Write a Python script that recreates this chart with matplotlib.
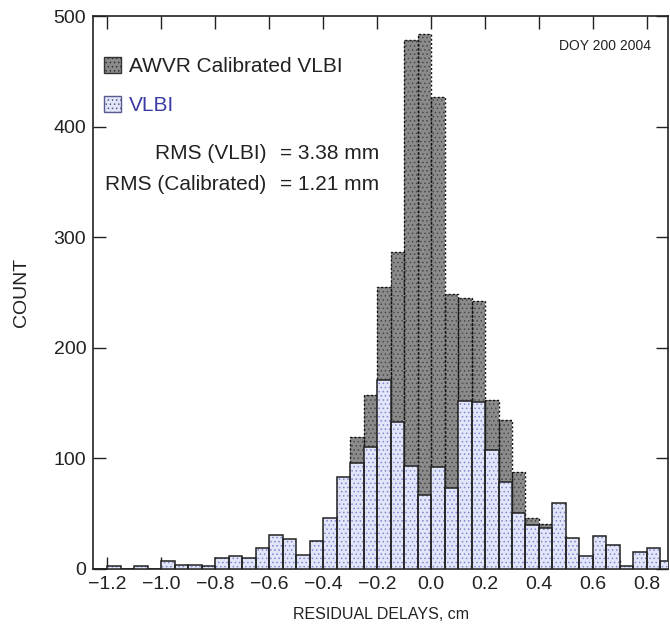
import numpy as np
import matplotlib
matplotlib.use("Agg")
import matplotlib.pyplot as plt
from matplotlib.patches import Patch

plt.rcParams["font.family"] = ["Liberation Sans", "DejaVu Sans"]
plt.rcParams["hatch.linewidth"] = 0.6

# Histogram bins (left edges, cm), width 0.05
bin_left = np.round(np.arange(-1.25, 0.851, 0.05), 2)
bin_width = 0.05

# VLBI residual counts (light blue bars, front)
vlbi = [0, 3, 0, 3, 0, 7, 4, 4, 3, 10, 12, 10, 19, 31, 27, 13, 25, 46,
        83, 96, 110, 171, 133, 93, 67, 92, 73, 152, 151, 108, 79, 51, 40,
        37, 60, 28, 12, 30, 22, 3, 15, 19, 7]

# AWVR calibrated VLBI residual counts (dark gray bars, behind)
calibrated = [0, 1, 0, 1, 0, 2, 1, 1, 0, 3, 4, 3, 6, 10, 9, 5, 9, 18,
              82, 119, 157, 255, 287, 478, 484, 427, 249, 245, 242, 153, 135, 88, 46,
              41, 30, 12, 6, 10, 8, 2, 5, 6, 3]

xticks = [-1.2, -1.0, -0.8, -0.6, -0.4, -0.2, 0.0, 0.2, 0.4, 0.6, 0.8]
yticks = [0, 100, 200, 300, 400, 500]

gray_face = "#8b8b8b"
gray_dots = "#4a4a4a"
blue_face = "#e2e6f8"
blue_dots = "#8088d0"

fig = plt.figure(figsize=(6.7, 6.31), dpi=100)
ax = fig.add_axes([0.139, 0.0983, 0.858, 0.8763])

# calibrated bars: hatch layer + dotted outline
ax.bar(bin_left, calibrated, width=bin_width, align="edge", color=gray_face,
       edgecolor=gray_dots, hatch="....", linewidth=0, zorder=1)
ax.bar(bin_left, calibrated, width=bin_width, align="edge", fill=False,
       edgecolor="#111111", linewidth=1.0, linestyle=(0, (1.5, 1.5)), zorder=2)

# VLBI bars
ax.bar(bin_left, vlbi, width=bin_width, align="edge", color=blue_face,
       edgecolor=blue_dots, hatch="....", linewidth=0, zorder=3)
ax.bar(bin_left, vlbi, width=bin_width, align="edge", fill=False,
       edgecolor="#222222", linewidth=1.1, zorder=4)

ax.set_xlim(-1.252, 0.878)
ax.set_ylim(0, 500)
ax.set_xticks(xticks)
ax.set_yticks(yticks)
ax.tick_params(direction="in", length=9, width=1, top=True, right=True,
               labelsize=14, colors="#222222", pad=5)
for spine in ax.spines.values():
    spine.set_linewidth(1.2)
    spine.set_color("#222222")

ax.set_xlabel("RESIDUAL DELAYS, cm", fontsize=11.5, color="#222222", labelpad=10)
ax.set_ylabel("COUNT", fontsize=14, color="#222222", labelpad=17)

handles = [Patch(facecolor=gray_face, edgecolor="#333333", hatch="....", linewidth=1),
           Patch(facecolor=blue_face, edgecolor="#5a5a90", hatch="....", linewidth=1)]
leg = ax.legend(handles, ["AWVR Calibrated VLBI", "VLBI"], loc="upper left",
                bbox_to_anchor=(-0.007, 0.953), frameon=False, fontsize=15,
                handlelength=0.82, handleheight=0.82, handletextpad=0.4,
                labelspacing=0.95, borderaxespad=0.3)
leg.get_texts()[0].set_color("#222222")
leg.get_texts()[1].set_color("#3a3aa6")

ax.text(0.301, 0.752, "RMS (VLBI)", transform=ax.transAxes, ha="right",
        va="center", fontsize=15, color="#222222")
ax.text(0.325, 0.752, "= 3.38 mm", transform=ax.transAxes, ha="left",
        va="center", fontsize=15, color="#222222")
ax.text(0.301, 0.696, "RMS (Calibrated)", transform=ax.transAxes, ha="right",
        va="center", fontsize=15, color="#222222")
ax.text(0.325, 0.696, "= 1.21 mm", transform=ax.transAxes, ha="left",
        va="center", fontsize=15, color="#222222")
ax.text(0.970, 0.946, "DOY 200 2004", transform=ax.transAxes, ha="right",
        va="center", fontsize=10, color="#222222")

fig.savefig("out.png", dpi=100)
